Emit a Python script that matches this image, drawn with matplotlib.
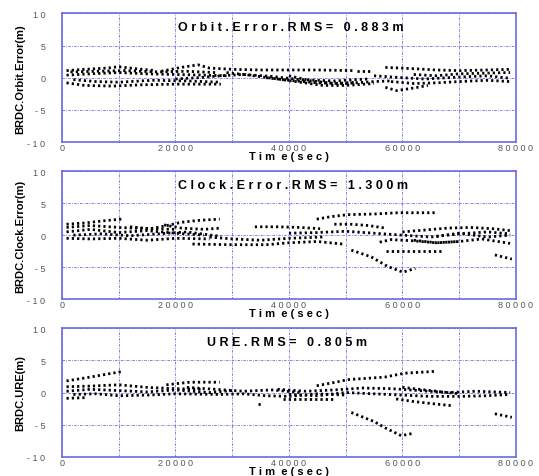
import matplotlib.pyplot as plt

# time in 1000 s, values in m; each inner list is one satellite pass
orbit_t = [
    [0.8, 4, 8, 10, 13, 16.5],
    [0.8, 5, 10, 15, 20, 25, 29],
    [0.8, 4, 9, 14, 20, 28],
    [2, 6, 10, 16, 22, 28],
    [1.5, 6, 11, 17, 22, 27],
    [17.5, 21, 24, 26, 30, 35, 40, 45, 51.5],
    [20, 24, 28, 32, 37, 42, 48, 54],
    [29, 33, 38, 42, 46, 50, 55],
    [36, 40, 45, 50, 55, 58],
    [52, 54.5],
    [57, 62, 66, 70, 75, 79],
    [57, 59, 62, 64.5],
    [58, 62, 66, 70, 75, 79],
    [55, 60, 64, 70, 75, 79],
    [62, 66, 70, 74, 79],
    [40, 44, 48, 52],
]
orbit_v = [
    [1.1, 1.3, 1.5, 1.7, 1.4, 1.1],
    [0.4, 0.6, 0.8, 0.6, 0.5, 0.4, 0.3],
    [-0.8, -1.2, -1.3, -1.1, -1.0, -1.0],
    [-0.3, -0.6, -0.7, -0.4, -0.5, -0.7],
    [0.9, 1.0, 1.1, 0.9, 1.0, 0.8],
    [1.0, 1.6, 2.0, 1.5, 1.3, 1.2, 1.2, 1.2, 1.1],
    [-0.2, 0.0, 0.3, 0.5, 0.2, -0.3, -0.5, -0.2],
    [0.8, 0.4, -0.2, -0.7, -1.2, -1.2, -0.9],
    [0.0, -0.4, -0.8, -0.9, -0.6, -0.5],
    [1.0, 1.0],
    [1.6, 1.4, 1.2, 1.1, 1.2, 1.3],
    [-1.5, -2.0, -1.6, -1.2],
    [-0.6, -0.9, -0.8, -0.6, -0.4, -0.6],
    [0.3, 0.0, -0.2, 0.1, 0.3, -0.1],
    [0.5, 0.3, 0.6, 0.7, 0.8],
    [0.3, -0.5, -0.9, -0.7],
]

clock_t = [
    [0.8, 4, 8, 10.5],
    [0.8, 5, 10, 15, 20],
    [0.8, 5, 10, 15, 20, 25],
    [0.8, 5, 10, 15, 20, 26],
    [2, 7, 12, 17, 22, 28],
    [12, 15.5, 18, 21, 24, 27.8],
    [18, 21, 25, 28],
    [23, 30, 36, 40, 45, 49.5],
    [26, 30, 35, 40, 46],
    [34, 38, 42, 45.5],
    [44.9, 47.5, 50.4, 55, 59.2, 66],
    [51, 54.5, 57.4, 60.1, 62.3],
    [57.2, 60, 63, 67],
    [56, 58, 62, 66, 70],
    [40, 45, 50, 55, 60, 65, 70, 75, 79],
    [48, 51, 54, 57],
    [60, 64, 68, 72, 76, 79],
    [62, 66, 70, 74, 79],
    [76.3, 79.3],
    [66, 70, 75, 79],
]
clock_v = [
    [1.7, 1.9, 2.3, 2.5],
    [1.2, 1.5, 1.2, 1.0, 0.9],
    [0.5, 0.9, 0.4, 0.7, 0.3, 0.0],
    [-0.5, -0.6, -0.5, -0.8, -0.5, -0.6],
    [0.0, 0.2, -0.1, 0.2, 0.5, -0.2],
    [1.3, 1.0, 1.4, 2.0, 2.3, 2.5],
    [1.6, 1.1, 0.9, 1.1],
    [-1.4, -1.5, -1.5, -1.2, -1.0, -1.4],
    [-0.3, -0.6, -0.8, -0.5, -0.3],
    [1.3, 1.3, 1.2, 1.0],
    [2.5, 2.9, 3.2, 3.3, 3.5, 3.5],
    [-2.35, -3.4, -4.9, -5.8, -5.2],
    [-2.5, -2.5, -2.5, -2.5],
    [-1.1, -0.7, -0.9, -1.2, -1.0],
    [0.3, 0.4, 0.6, 0.3, 0.0, -0.3, 0.2, 0.5, 0.2],
    [1.7, 1.7, 1.5, 1.1],
    [0.5, 0.8, 1.1, 1.2, 1.0, 0.7],
    [-0.8, -1.2, -1.0, -0.6, -1.3],
    [-3.1, -3.75],
    [-0.2, 0.3, -0.3, 0.0],
]

ure_t = [
    [0.8, 5, 10.8],
    [0.8, 4],
    [0.8, 5, 10, 15, 20, 25],
    [0.8, 5, 10, 15, 20, 26, 30],
    [2, 6, 10, 15, 20, 28],
    [18.4, 22.5, 27.8],
    [22, 27, 32, 37, 42],
    [28, 32, 36, 40, 45, 50],
    [34.5, 35.3],
    [44.9, 48.2, 50.4, 56.9, 60.4, 66],
    [51, 55, 57, 59.8, 62.1],
    [58.9, 62, 65, 68.8],
    [76.3, 79.3],
    [39, 44, 48.2],
    [38, 43, 48, 53, 58, 63, 68, 73, 79],
    [40, 45, 50, 55, 60, 65, 70, 75, 79],
    [60, 63, 66, 70],
]
ure_v = [
    [1.8, 2.4, 3.3],
    [-0.9, -0.8],
    [0.9, 1.0, 1.2, 0.8, 0.6, 0.5],
    [0.2, 0.5, 0.3, 0.1, 0.4, 0.0, 0.3],
    [-0.3, -0.2, -0.5, -0.4, -0.2, -0.3],
    [1.2, 1.6, 1.6],
    [0.8, 0.5, 0.2, 0.4, 0.0],
    [-0.3, -0.2, -0.5, -0.6, -0.2, -0.4],
    [-1.8, -1.8],
    [1.05, 1.6, 2.0, 2.4, 3.0, 3.3],
    [-3.1, -4.5, -5.5, -6.7, -6.3],
    [-1.0, -1.4, -1.7, -2.05],
    [-3.3, -3.85],
    [-1.0, -1.0, -1.0],
    [0.5, 0.2, 0.4, 0.7, 0.6, 0.3, 0.0, 0.2, 0.0],
    [-0.3, -0.5, 0.0, -0.2, -0.4, -0.6, -0.6, -0.5, -0.3],
    [0.8, 0.5, 0.2, -0.2],
]

panel_titles = ["O r b i t . E r r o r . R M S =   0 . 8 8 3 m",
                "C l o c k . E r r o r . R M S =   1 . 3 0 0 m",
                "U R E . R M S =   0 . 8 0 5 m"]
ylabels = ["BRDC.Orbit.Error(m)", "BRDC.Clock.Error(m)", "BRDC.URE(m)"]
xticks = [0, 20000, 40000, 60000, 80000]
xtick_labels = ["0", "2 0 0 0 0", "4 0 0 0 0", "6 0 0 0 0", "8 0 0 0 0"]
yticks = [-10, -5, 0, 5, 10]
ytick_labels = ["- 1 0", "- 5", "0", "5", "1 0"]

plt.rcParams['font.family'] = ['Liberation Sans', 'DejaVu Sans']
blue = '#6a6ae6'

fig = plt.figure(figsize=(5.39, 4.77), dpi=100)
boxes = [[0.115, 0.700, 0.842, 0.270],
         [0.115, 0.371, 0.842, 0.268],
         [0.115, 0.040, 0.842, 0.270]]
title_x = [0.256, 0.256, 0.319]
all_t = [orbit_t, clock_t, ure_t]
all_v = [orbit_v, clock_v, ure_v]

for i in range(3):
    ax = fig.add_axes(boxes[i])
    for t, v in zip(all_t[i], all_v[i]):
        ax.plot([x * 1000 for x in t], v, color='black', lw=2.0,
                dashes=(0.8, 1.1), solid_capstyle='butt', dash_capstyle='butt')
    ax.set_xlim(0, 80000)
    ax.set_ylim(-10, 10)
    ax.set_xticks(xticks)
    ax.set_xticklabels(xtick_labels)
    ax.set_xticks([10000, 30000, 50000, 70000], minor=True)
    ax.set_yticks(yticks)
    ax.set_yticklabels(ytick_labels)
    ax.tick_params(which='both', length=0, labelsize=6.5, labelcolor='#555555')
    ax.tick_params(axis='x', pad=1)
    ax.tick_params(axis='y', pad=12)
    ax.grid(True, which='both', color=blue, lw=0.6, dashes=(3, 1.5, 1, 1.5))
    ax.set_axisbelow(True)
    for s in ax.spines.values():
        s.set_color(blue)
        s.set_linewidth(1.2)
    ax.set_xlabel("T i m  e ( s e c )", fontsize=8, fontweight='bold', labelpad=-1)
    ax.set_ylabel(ylabels[i], fontsize=8, fontweight='bold')
    ax.yaxis.set_label_coords(-0.082, 0.5)
    ax.text(title_x[i], 0.89, panel_titles[i], transform=ax.transAxes,
            fontsize=9, fontweight='bold', va='center', ha='left')

fig.savefig("out.png", dpi=100)
